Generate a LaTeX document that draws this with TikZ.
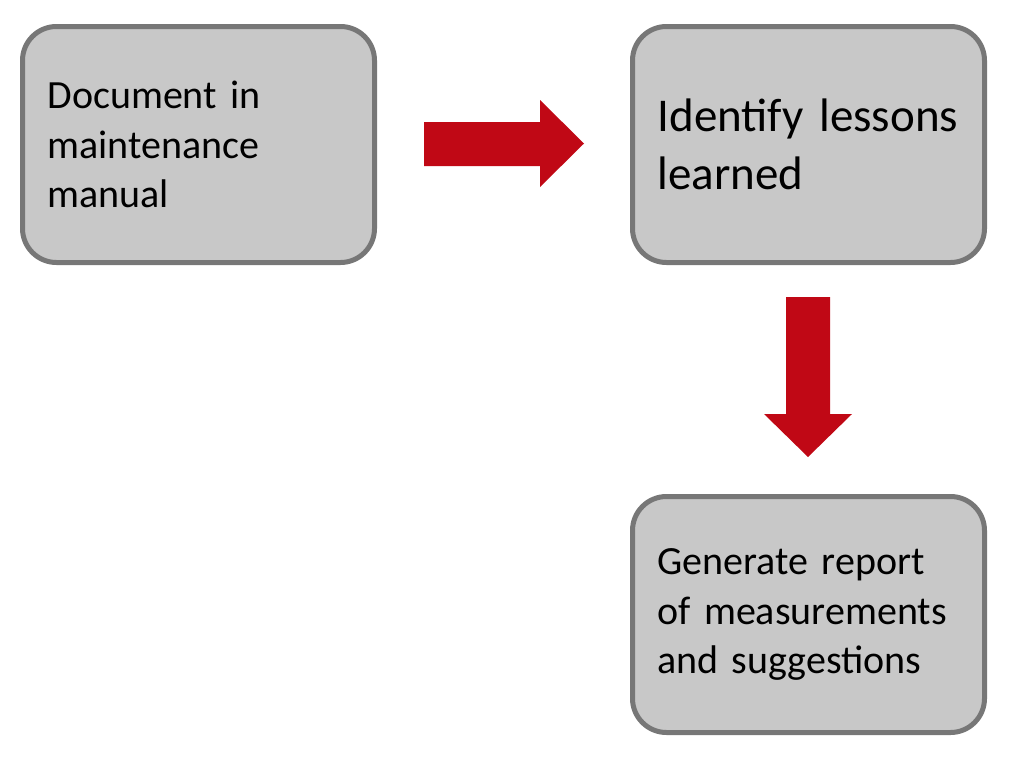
\documentclass[tikz,border=0pt]{standalone}
\usepackage{fontspec}
\setmainfont{Carlito}
\usepackage{xcolor}
\definecolor{boxfill}{HTML}{C8C8C8}
\definecolor{boxline}{HTML}{777777}
\definecolor{arrowred}{HTML}{C00815}

\begin{document}
\begin{tikzpicture}
  [x=1pt,y=-1pt,
   stepbox/.style={draw=boxline,fill=boxfill,line width=5pt,rounded corners=34pt,
     minimum width=352pt,minimum height=236pt,text width=302pt,inner xsep=24pt,
     align=left,anchor=north west},
   blockarrow/.style={fill=arrowred}]
  \useasboundingbox (0,0) rectangle (1018,758);

  \node[stepbox,font=\fontsize{40}{49.5}\selectfont] (doc) at (20,24)
    {Document in\\maintenance\\manual};
  \node[stepbox,font=\fontsize{47}{58}\selectfont] (lessons) at (630,24)
    {Identify lessons\\learned};
  \node[stepbox,font=\fontsize{40}{49.5}\selectfont] (report) at (630,494)
    {Generate report\\of measurements\\and suggestions};

  % block arrows
  \fill[blockarrow] (424,122) -- (540,122) -- (540,100) -- (584,143.5)
    -- (540,187) -- (540,166) -- (424,166) -- cycle;
  \fill[blockarrow] (786,297) -- (830,297) -- (830,414) -- (852,414)
    -- (808,457) -- (764,414) -- (786,414) -- cycle;

\end{tikzpicture}
\end{document}
